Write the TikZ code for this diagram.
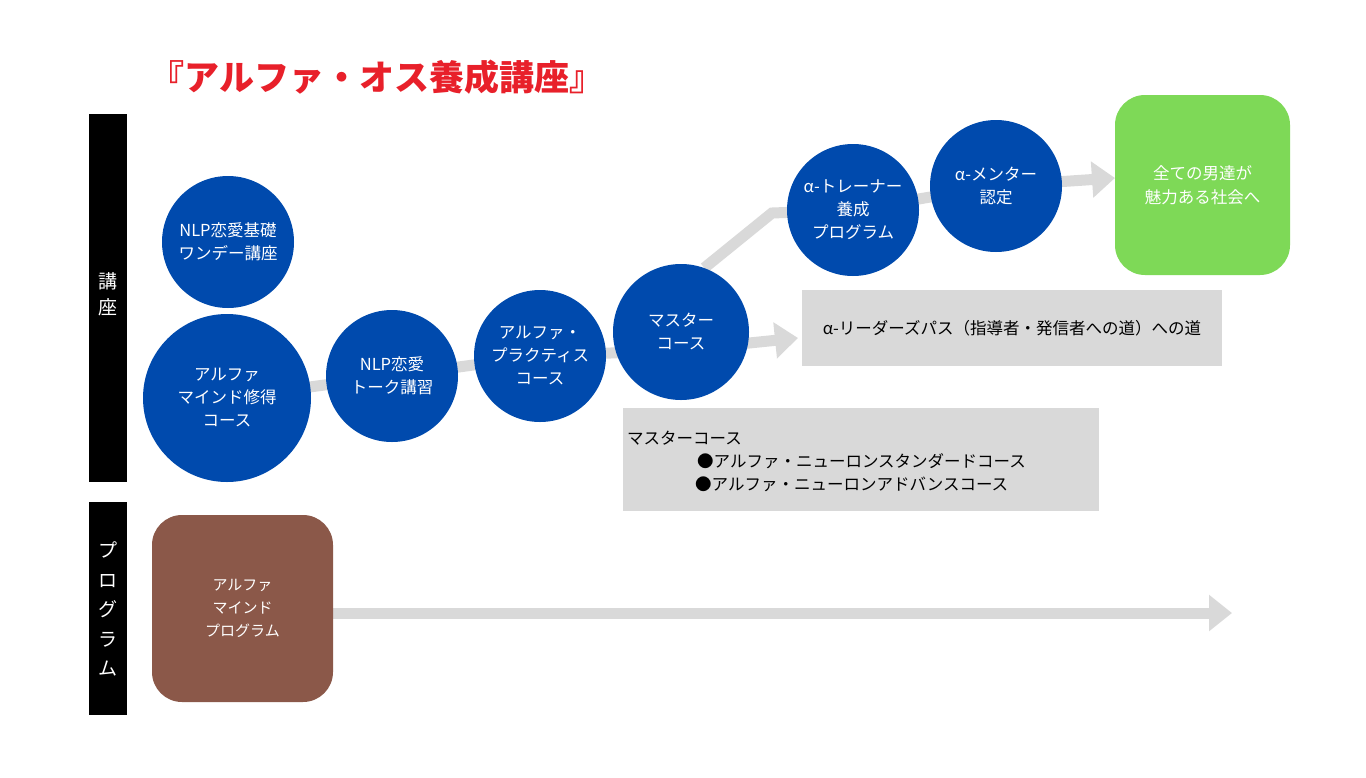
\documentclass[tikz,border=0pt]{standalone}
\usepackage{fontspec}
\setmainfont{Noto Sans CJK JP}
\usetikzlibrary{arrows.meta,backgrounds,calc}
\definecolor{cblue}{HTML}{004AAD}
\definecolor{cgrey}{HTML}{D9D9D9}
\definecolor{cgreen}{HTML}{7ED957}
\definecolor{cbrown}{HTML}{8B5849}
\definecolor{cred}{HTML}{E8202A}
\begin{document}
\begin{tikzpicture}[x=1pt,y=-1pt,
  circ/.style={circle, fill=cblue, text=white, inner sep=0pt, align=center,
    minimum size=132pt, font=\fontsize{16.5}{23}\selectfont},
  band/.style={draw=cgrey, line width=11pt, line join=miter},
  bandarrow/.style={band, -{Triangle[width=35pt,length=23pt]}},
  sidebar/.style={fill=black, inner sep=0pt, minimum width=38pt},
  sidetext/.style={text=white, align=center, inner sep=0pt},
  greybox/.style={fill=cgrey, inner sep=0pt},
  boxtext/.style={text=black, font=\fontsize{16.5}{20}\selectfont, inner sep=0pt},
  roundbox/.style={rounded corners=30pt, inner sep=0pt, text=white, align=center}]
\useasboundingbox (0,0) rectangle (1366,777);
% title
\node[text=cred, font=\fontsize{35}{35}\selectfont\bfseries, inner sep=0pt] (title) at (377,77) {『アルファ・オス養成講座』};
% side bars
\node[sidebar, minimum height=368pt] (bar1) at (108,298) {};
\node[sidetext, font=\fontsize{19}{26}\selectfont] (bar1t) at (108,294) {講\\座};
\node[sidebar, minimum height=213pt] (bar2) at (108,608.5) {};
\node[sidetext, font=\fontsize{19}{29.5}\selectfont] (bar2t) at (108,609) {プ\\ロ\\グ\\ラ\\ム};
% circles
\node[circ] (c1) at (228,242) {NLP恋愛基礎\\ワンデー講座};
\node[circ, minimum size=168pt] (c2) at (227,398) {アルファ\\マインド修得\\コース};
\node[circ] (c3) at (392,376) {NLP恋愛\\トーク講習};
\node[circ] (c4) at (540,356) {アルファ・\\プラクティス\\コース};
\node[circ, minimum size=136pt] (c5) at (681,332) {マスター\\コース};
\node[circ] (c6) at (853,210) {α-トレーナー\\養成\\プログラム};
\node[circ] (c7) at (996,186) {α-メンター\\認定};
% green goal
\node[roundbox, fill=cgreen, minimum width=175pt, minimum height=180pt,
  font=\fontsize{16.5}{24}\selectfont] (goal) at (1202.5,185) {全ての男達が\\魅力ある社会へ};
% grey boxes
\node[greybox, minimum width=420pt, minimum height=76pt] (box1) at (1012,328) {};
\node[boxtext] (box1t) at (1012,328) {α-リーダーズパス（指導者・発信者への道）への道};
\node[greybox, minimum width=476pt, minimum height=103pt] (box2) at (861,459.5) {};
\node[boxtext, anchor=west] (box2a) at (627,438) {マスターコース};
\node[boxtext, anchor=west] (box2b) at (697,461) {●アルファ・ニューロンスタンダードコース};
\node[boxtext, anchor=west] (box2c) at (695,484) {●アルファ・ニューロンアドバンスコース};
% brown program box
\node[roundbox, fill=cbrown, minimum width=181pt, minimum height=187pt,
  font=\fontsize{15}{23}\selectfont] (prog) at (242.5,608.5) {アルファ\\マインド\\プログラム};
% free ends
\coordinate (tipA) at (798,338);
\coordinate (bend) at (772,213);
\coordinate (tipG) at (1115,178);
\coordinate (tipP) at (1232,613);
\begin{scope}[on background layer]
\fill[white] (0,0) rectangle (1366,777);
\draw[bandarrow] (c2.center) -- (c3.center) -- (c4.center) -- ($(c5.center)+(0,18)$) -- (tipA);
\draw[band] (c5.70) -- (bend) -- (c6.center);
\draw[band] (c6.center) -- (c7.center);
\draw[bandarrow] (c7.center) -- (tipG);
\draw[bandarrow] (prog.east |- tipP) -- (tipP);
\end{scope}
\end{tikzpicture}
\end{document}
